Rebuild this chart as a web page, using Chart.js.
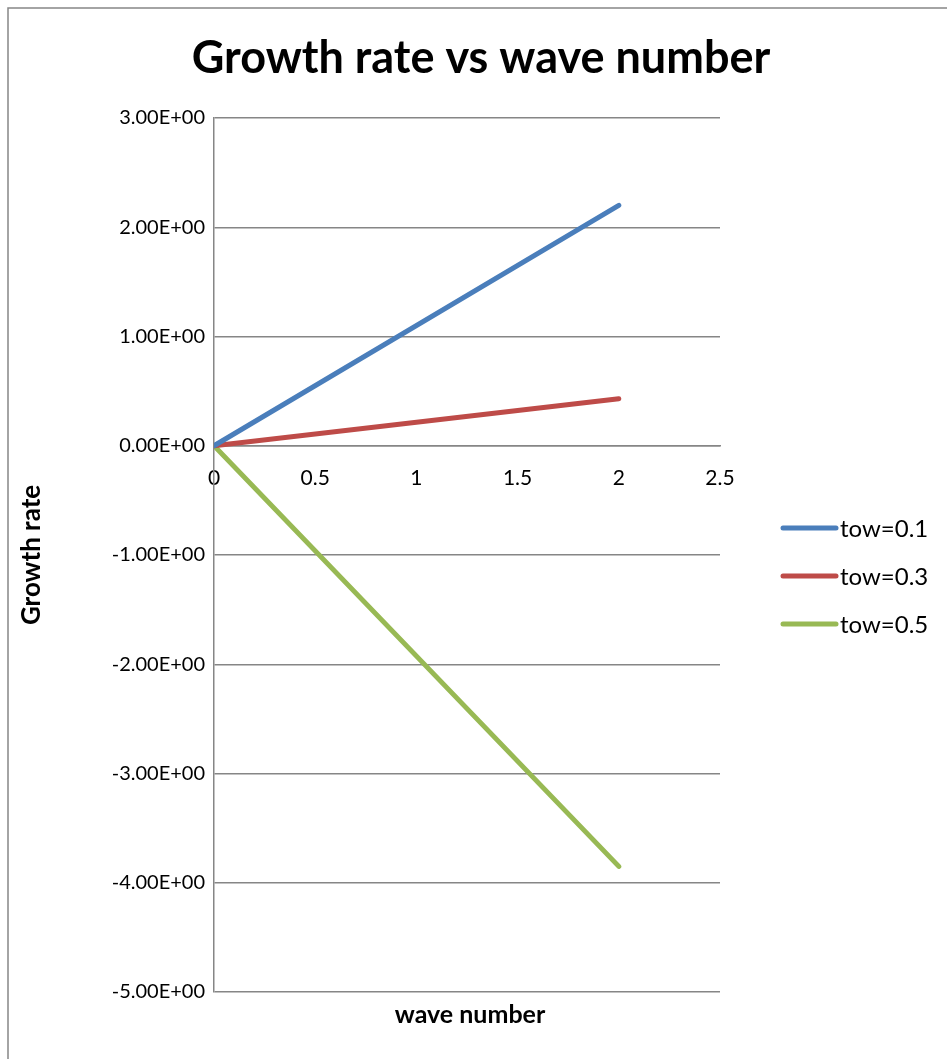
<!DOCTYPE html>
<html>
<head>
<meta charset="utf-8">
<script src="https://cdn.jsdelivr.net/npm/chart.js@4/dist/chart.umd.min.js"></script>
<style>
  html, body { margin: 0; padding: 0; background: #fff; }
  #wrap { width: 947px; height: 1059px; position: relative; }
</style>
</head>
<body>
<div id="wrap"><canvas id="c" width="947" height="1059"></canvas></div>
<script>
const chartTitle = 'Growth rate vs wave number';
const xAxisTitle = 'wave number';
const yAxisTitle = 'Growth rate';
const waveNumber = [0, 2];
const tow01 = [0, 2.2];
const tow03 = [0, 0.43];
const tow05 = [0, -3.85];
const seriesLabels = ['tow=0.1', 'tow=0.3', 'tow=0.5'];
const seriesColors = ['#4A7EBB', '#BE4B48', '#98B954'];
const xTickValues = [0, 0.5, 1, 1.5, 2, 2.5];
const yTickValues = [-5, -4, -3, -2, -1, 0, 1, 2, 3];

const FONT = 'Lato, "Open Sans", sans-serif';

function sci(v) {
  if (v === 0) return '0.00E+00';
  const sign = v < 0 ? '-' : '';
  let a = Math.abs(v);
  let e = Math.floor(Math.log10(a));
  let m = a / Math.pow(10, e);
  if (Number(m.toFixed(2)) >= 10) { m /= 10; e += 1; }
  const es = (e < 0 ? '-' : '+') + String(Math.abs(e)).padStart(2, '0');
  return sign + m.toFixed(2) + 'E' + es;
}

const allSeries = [tow01, tow03, tow05];
const datasets = allSeries.map((ys, i) => ({
  label: seriesLabels[i],
  data: waveNumber.map((x, j) => ({ x: x, y: ys[j] })),
  borderColor: seriesColors[i],
  backgroundColor: seriesColors[i],
  borderWidth: 5,
  borderCapStyle: 'round',
  borderJoinStyle: 'round',
  pointRadius: 0,
  showLine: true,
  tension: 0
}));

const decor = {
  id: 'decor',
  afterDraw(chart) {
    const ctx = chart.ctx;
    ctx.save();
    // outer frame (left and top edges)
    ctx.strokeStyle = '#868686';
    ctx.lineWidth = 1.5;
    ctx.beginPath();
    ctx.moveTo(8, 1059);
    ctx.lineTo(8, 8);
    ctx.lineTo(947, 8);
    ctx.stroke();

    // title
    ctx.fillStyle = '#000';
    ctx.textAlign = 'center';
    ctx.textBaseline = 'middle';
    ctx.font = 'bold 45px ' + FONT;
    ctx.fillText(chartTitle, 481, 58);

    // x axis title
    ctx.font = 'bold 25px ' + FONT;
    ctx.fillText(xAxisTitle, 470, 1015);

    // y axis title
    ctx.save();
    ctx.translate(32, 555);
    ctx.rotate(-Math.PI / 2);
    ctx.font = 'bold 26px ' + FONT;
    ctx.fillText(yAxisTitle, 0, 0);
    ctx.restore();

    // legend
    const ly = [528, 576, 624];
    ctx.font = '24px ' + FONT;
    ctx.textAlign = 'left';
    ctx.lineCap = 'round';
    chart.data.datasets.forEach((ds, i) => {
      ctx.strokeStyle = ds.borderColor;
      ctx.lineWidth = 5;
      ctx.beginPath();
      ctx.moveTo(783, ly[i]);
      ctx.lineTo(836, ly[i]);
      ctx.stroke();
      ctx.fillStyle = '#000';
      ctx.fillText(ds.label, 840, ly[i] + 1);
    });
    ctx.restore();
  }
};

new Chart(document.getElementById('c'), {
  type: 'scatter',
  data: { datasets: datasets },
  options: {
    responsive: false,
    animation: false,
    devicePixelRatio: 1,
    layout: { padding: { left: 0, right: 227, top: 118, bottom: 67 } },
    plugins: {
      legend: { display: false },
      title: { display: false },
      tooltip: { enabled: false }
    },
    scales: {
      x: {
        type: 'linear',
        position: { y: 0 },
        min: 0,
        max: 2.5,
        afterBuildTicks: (s) => { s.ticks = xTickValues.map(v => ({ value: v })); },
        grid: { color: 'rgba(0,0,0,0)', drawTicks: false },
        border: { display: true, color: '#868686', width: 1.5 },
        ticks: {
          color: '#000',
          padding: 20,
          maxRotation: 0,
          font: { family: FONT, size: 21 },
          callback: (v) => String(v)
        }
      },
      y: {
        type: 'linear',
        position: 'left',
        min: -5,
        max: 3,
        afterBuildTicks: (s) => { s.ticks = yTickValues.map(v => ({ value: v })); },
        afterFit: (s) => { s.width = 214; },
        grid: { color: '#868686', lineWidth: 1.5, drawTicks: false },
        border: { display: true, color: '#868686', width: 1.5 },
        ticks: {
          color: '#000',
          padding: 9,
          font: { family: FONT, size: 20 },
          callback: (v) => sci(v)
        }
      }
    }
  },
  plugins: [decor]
});
</script>
</body>
</html>
